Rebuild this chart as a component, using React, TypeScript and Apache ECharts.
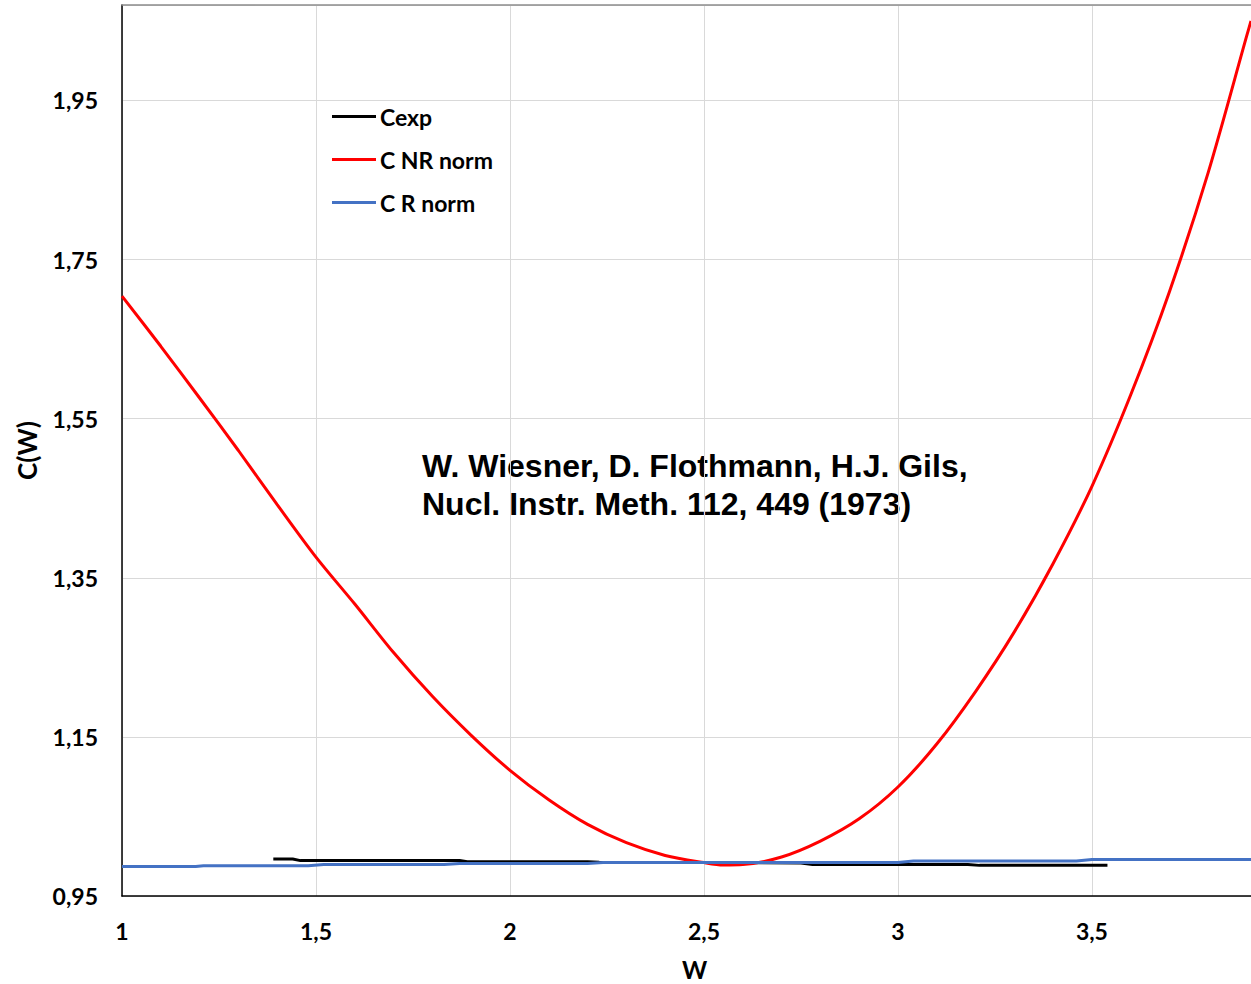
import React, { useEffect, useRef } from "react";
import * as echarts from "echarts";

// C NR norm (red)
const nrX = [1.0, 1.1, 1.2, 1.3, 1.4, 1.5, 1.6, 1.7, 1.8, 1.9, 2.0, 2.1, 2.2, 2.3, 2.4, 2.5, 2.55, 2.6, 2.7, 2.8, 2.9, 3.0, 3.1, 3.2, 3.3, 3.4, 3.5, 3.6, 3.7, 3.8, 3.9, 3.91];
const nrY = [1.704, 1.641, 1.576, 1.51, 1.442, 1.376, 1.317, 1.256, 1.201, 1.152, 1.108, 1.071, 1.04, 1.017, 1.001, 0.992, 0.989, 0.9895, 0.999, 1.019, 1.047, 1.087, 1.141, 1.207, 1.282, 1.368, 1.465, 1.58, 1.71, 1.86, 2.033, 2.05];

// C R norm (blue)
const rX = [1.0, 1.19, 1.21, 1.48, 1.52, 1.83, 1.87, 2.2, 2.24, 3.0, 3.04, 3.46, 3.5, 3.91];
const rY = [0.987, 0.987, 0.988, 0.988, 0.9895, 0.9895, 0.991, 0.991, 0.992, 0.992, 0.994, 0.994, 0.996, 0.996];

// Cexp (black)
const expX = [1.39, 1.44, 1.46, 1.87, 1.89, 2.2, 2.23, 2.5, 2.75, 2.78, 3.18, 3.21, 3.54];
const expY = [0.9965, 0.9965, 0.9945, 0.9945, 0.993, 0.993, 0.9925, 0.992, 0.9915, 0.9895, 0.9895, 0.9885, 0.9885];

const seriesNames = ["Cexp", "C NR norm", "C R norm"];
const seriesColors = ["#000000", "#ff0000", "#4472c4"];

const xMin = 1;
const xMax = 3.91;
const xStep = 0.5;
const yMin = 0.95;
const yMax = 2.07;
const yStep = 0.2;

const annotation = ["W. Wiesner, D. Flothmann, H.J. Gils,", "Nucl. Instr. Meth. 112, 449 (1973)"];

const zip = (xs: number[], ys: number[]) => xs.map((x, i) => [x, ys[i]]);

export default function App() {
  const ref = useRef<HTMLDivElement>(null);
  useEffect(() => {
    const chart = echarts.init(ref.current!, null, { renderer: "svg" });
    const labelFont = { fontFamily: "Lato", fontWeight: "bold" as const, color: "#000" };
    const grid = { color: "#d9d9d9", width: 1 };
    chart.setOption({
      animation: false,
      backgroundColor: "#ffffff",
      grid: { left: 122, top: 5, right: 0, bottom: 88, containLabel: false, outerBoundsMode: "none" },
      legend: {
        data: seriesNames,
        orient: "vertical",
        left: 332,
        top: 105,
        padding: 0,
        itemWidth: 44,
        itemHeight: 3,
        itemGap: 20,
        icon: "rect",
        textStyle: { ...labelFont, fontSize: 23, padding: [0, 0, 0, -1] },
      },
      xAxis: [
        {
          type: "value",
          min: xMin,
          max: xMax,
          interval: xStep,
          axisLine: { show: true, onZero: false, lineStyle: { color: "#000", width: 1.5 } },
          axisTick: { show: false },
          splitLine: { show: true, lineStyle: grid },
          axisLabel: {
            ...labelFont,
            fontSize: 23,
            margin: 23,
            showMaxLabel: false,
            formatter: (v: number) => String(v).replace(".", ","),
          },
          name: "W",
          nameLocation: "middle",
          nameGap: 61,
          nameTextStyle: { ...labelFont, fontSize: 24, padding: [0, 0, 0, 16] },
        },
        {
          type: "value",
          position: "top",
          min: xMin,
          max: xMax,
          axisLine: { show: true, onZero: false, lineStyle: { color: "#8c8c8c", width: 1.5 } },
          axisTick: { show: false },
          axisLabel: { show: false },
          splitLine: { show: false },
        },
      ],
      yAxis: [
        {
          type: "value",
          position: "left",
          min: yMin,
          max: yMax,
          axisLine: { show: true, onZero: false, lineStyle: { color: "#000", width: 1.5 } },
          axisTick: { show: false },
          axisLabel: { show: false },
          splitLine: { show: false },
          name: "C(W)",
          nameLocation: "middle",
          nameGap: 82,
          nameTextStyle: { ...labelFont, fontSize: 26 },
        },
        {
          type: "value",
          position: "left",
          min: 0,
          max: yMax - yMin,
          interval: yStep,
          axisLine: { show: false },
          axisTick: { show: false },
          splitLine: { show: true, lineStyle: grid },
          axisLabel: {
            ...labelFont,
            fontSize: 23,
            margin: 24,
            showMaxLabel: false,
            formatter: (v: number) => (v + yMin).toFixed(2).replace(".", ","),
          },
        },
      ],
      series: [
        { name: seriesNames[0], data: zip(expX, expY), color: seriesColors[0] },
        { name: seriesNames[1], data: zip(nrX, nrY), color: seriesColors[1], smooth: 0.3 },
        { name: seriesNames[2], data: zip(rX, rY), color: seriesColors[2] },
      ].map((s) => ({
        type: "line",
        xAxisIndex: 0,
        yAxisIndex: 0,
        showSymbol: false,
        symbol: "none",
        lineStyle: { width: 3, color: s.color },
        itemStyle: { color: s.color },
        ...s,
      })),
      graphic: [
        {
          type: "text",
          left: 422,
          top: 447,
          style: {
            text: annotation.join("\n"),
            font: "bold 32px 'Liberation Sans', Arial, sans-serif",
            fill: "#000",
            lineHeight: 38,
          },
        },
      ],
    });
    return () => chart.dispose();
  }, []);
  return (
    <div
      ref={ref}
      style={{ position: "absolute", left: 0, top: 0, width: 1251, height: 984 }}
    />
  );
}
